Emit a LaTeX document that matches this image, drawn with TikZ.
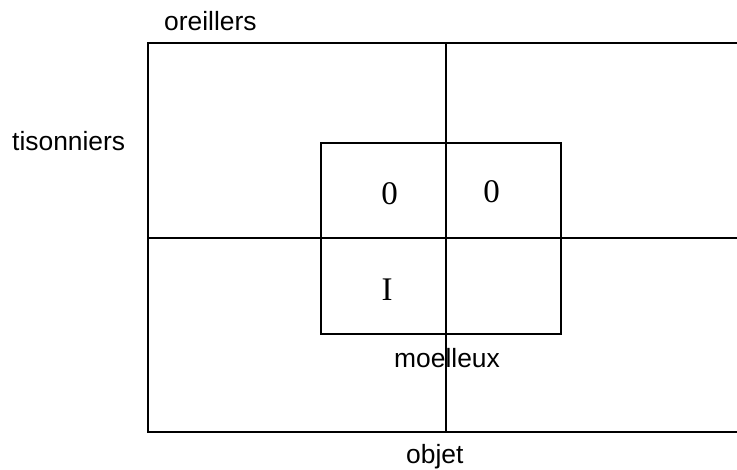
\documentclass[tikz,border=0pt]{standalone}
\usepackage{fontspec}
\setmainfont{Liberation Serif}
\newfontfamily\arialfont{Liberation Sans}
\begin{document}
\begin{tikzpicture}[x=1pt,y=-1pt,
  frame/.style={line width=2.2pt},
  innerbox/.style={line width=1.3pt},
  sanslabel/.style={font=\arialfont\fontsize{26.4}{31}\selectfont, inner sep=0pt, anchor=base west},
  seriflabel/.style={font=\fontsize{33}{39}\selectfont, inner sep=0pt, anchor=base}]
\useasboundingbox (0,0) rectangle (737,470);
% outer frame (open on the right)
\coordinate (tr) at (737,43);
\coordinate (tl) at (148,43);
\coordinate (bl) at (148,432);
\coordinate (br) at (737,432);
\draw[frame] (tr) -- (tl) -- (bl) -- (br);
% inner box
\coordinate (ib1) at (321,143);
\coordinate (ib2) at (561,334);
\draw[innerbox] (ib1) rectangle (ib2);
% cross
\coordinate (vt) at (446,43);
\coordinate (vb) at (446,432);
\coordinate (hl) at (148,238);
\coordinate (hr) at (737,238);
\draw[frame] (vt) -- (vb);
\draw[frame] (hl) -- (hr);
% labels
\node[sanslabel] (oreillers) at (164,31) {oreillers};
\node[sanslabel] (tisonniers) at (12,151) {tisonniers};
\node[sanslabel] (moelleux) at (394,368) {moelleux};
\node[sanslabel] (objet) at (406,464) {objet};
\node[seriflabel] (z1) at (389.5,205) {0};
\node[seriflabel] (z2) at (491.5,203) {0};
\node[seriflabel] (one) at (387,301) {I};
\end{tikzpicture}
\end{document}
